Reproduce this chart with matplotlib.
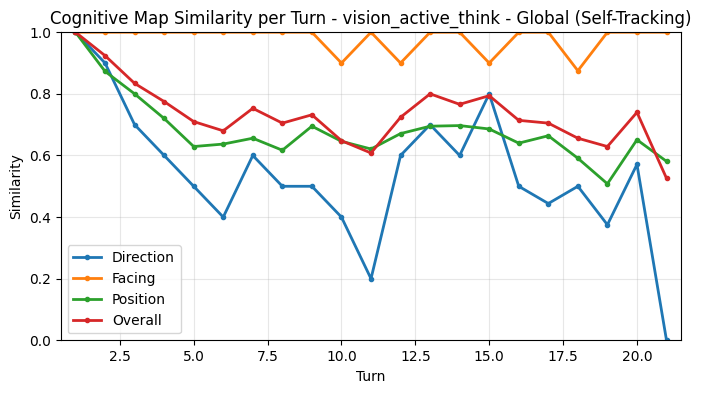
import matplotlib
matplotlib.use("Agg")
import matplotlib.pyplot as plt

turns = list(range(1, 22))
direction = [1.0, 0.9, 0.7, 0.6, 0.5, 0.4, 0.6, 0.5, 0.5, 0.4, 0.2, 0.6, 0.7, 0.6, 0.8, 0.5, 0.444, 0.5, 0.375, 0.571, 0.0]
facing = [1, 1, 1, 1, 1, 1, 1, 1, 1, 0.9, 1, 0.9, 1, 1, 0.9, 1, 1, 0.875, 1, 1, 1]
position = [1.0, 0.873, 0.80, 0.72, 0.629, 0.637, 0.656, 0.617, 0.695, 0.646, 0.621, 0.671, 0.695, 0.697, 0.686, 0.64, 0.664, 0.591, 0.508, 0.651, 0.581]
overall = [1.0, 0.924, 0.834, 0.775, 0.710, 0.680, 0.753, 0.705, 0.732, 0.648, 0.608, 0.724, 0.80, 0.766, 0.794, 0.714, 0.705, 0.656, 0.629, 0.740, 0.526]

fig, ax = plt.subplots(figsize=(7.02, 3.93), dpi=100)
fig.subplots_adjust(left=0.0865, right=0.9705, top=0.918, bottom=0.134)

for vals, name in [(direction, "Direction"), (facing, "Facing"), (position, "Position"), (overall, "Overall")]:
    ax.plot(turns, vals, marker="o", markersize=3, linewidth=2, label=name)

ax.set_xlim(0.5, 21.5)
ax.set_ylim(0, 1)
ax.set_xlabel("Turn")
ax.set_ylabel("Similarity")
ax.set_title("Cognitive Map Similarity per Turn - vision_active_think - Global (Self-Tracking)")
ax.grid(True, alpha=0.3)
ax.legend(loc="lower left")

fig.savefig("out.png", dpi=100)
